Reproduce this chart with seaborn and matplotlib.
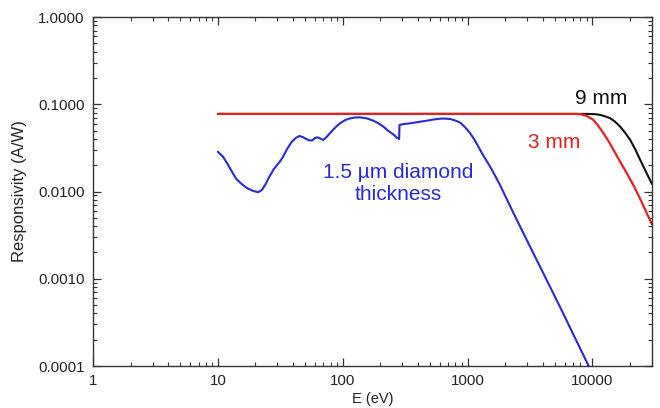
import numpy as np
import pandas as pd
import matplotlib
matplotlib.use("Agg")
import matplotlib.pyplot as plt
import matplotlib.ticker as mticker
import seaborn as sns

# ---- data ----
blue_E = [10, 11, 12, 13, 14, 15.5, 17, 19, 21, 22.5, 24, 26, 28, 31, 33, 36, 39,
          42, 45, 48, 51, 54, 57, 60, 63, 66, 70, 74, 79, 87, 95, 105, 115, 126,
          138, 155, 176, 195, 212, 230, 247, 260, 271, 283,
          285, 300, 347, 400, 472, 540, 603, 660, 726, 800, 873, 950, 1050, 1150,
          1262, 1380, 1517, 1660, 1824, 2075, 2637, 3820, 5520, 9090, 10000]
blue_R = [0.0286, 0.0250, 0.0205, 0.0168, 0.0140, 0.0122, 0.0110, 0.0102, 0.0098,
          0.0104, 0.0120, 0.0150, 0.0180, 0.0215, 0.0245, 0.0310, 0.0370, 0.0410,
          0.0433, 0.0420, 0.0400, 0.0385, 0.0385, 0.0410, 0.0418, 0.0405, 0.0390,
          0.0420, 0.0465, 0.0540, 0.0605, 0.0660, 0.0690, 0.0705, 0.0708, 0.0690,
          0.0648, 0.0600, 0.0553, 0.0500, 0.0465, 0.0440, 0.0414, 0.0400,
          0.0578, 0.0590, 0.0605, 0.0625, 0.0648, 0.0670, 0.0683, 0.0685, 0.0678,
          0.0650, 0.0615, 0.0550, 0.0465, 0.0380, 0.0299, 0.0240, 0.0192, 0.0152,
          0.0118, 0.0080, 0.00395, 0.00136, 0.00047, 0.000108, 0.000082]

red_E = [10, 100, 1000, 7000, 8000, 9000, 10200, 11200, 12270, 13500, 14760,
         16500, 18900, 21500, 24150, 27000, 30000]
red_R = [0.0775, 0.0775, 0.0775, 0.0775, 0.0770, 0.0735, 0.0660, 0.0560, 0.0465,
         0.0375, 0.0299, 0.0225, 0.0161, 0.0115, 0.0082, 0.0058, 0.0042]

black_E = [10, 100, 1000, 9000, 10500, 11540, 12700, 13900, 15200, 16700, 18300,
           20100, 22000, 24150, 27000, 30000]
black_R = [0.0775, 0.0775, 0.0775, 0.0775, 0.0770, 0.0755, 0.0725, 0.0690, 0.0630,
           0.0553, 0.0470, 0.0389, 0.0305, 0.0230, 0.0165, 0.0122]

x_ticks = [1, 10, 100, 1000, 10000]
y_ticks = [0.0001, 0.001, 0.01, 0.1, 1.0]

labels = {"black": "9 mm", "red": "3 mm", "blue": "1.5 µm diamond\nthickness"}

# ---- style ----
sns.set_theme(style="white")
plt.rcParams["font.family"] = ["Liberation Sans", "DejaVu Sans"]

BLUE = "#2a2ad4"
RED = "#e42020"
BLACK = "#111111"
AX = "#333333"

fig = plt.figure(figsize=(6.6, 4.08), dpi=100)
ax = fig.add_axes([93 / 660, 1 - 366 / 408, (652 - 93) / 660, (366 - 17) / 408])

df_b = pd.DataFrame({"E": blue_E, "R": blue_R})
df_r = pd.DataFrame({"E": red_E, "R": red_R})
df_k = pd.DataFrame({"E": black_E, "R": black_R})

sns.lineplot(data=df_k, x="E", y="R", ax=ax, color=BLACK, lw=1.5, estimator=None, sort=False)
sns.lineplot(data=df_r, x="E", y="R", ax=ax, color=RED, lw=1.6, estimator=None, sort=False)
sns.lineplot(data=df_b, x="E", y="R", ax=ax, color=BLUE, lw=1.5, estimator=None, sort=False)

ax.set_xscale("log")
ax.set_yscale("log")
ax.set_xlim(1, 30000)
ax.set_ylim(0.0001, 1.0)

ax.set_xticks(x_ticks)
ax.set_xticklabels([str(v) for v in x_ticks])
ax.set_yticks(y_ticks)
ax.set_yticklabels(["%.4f" % v for v in y_ticks])
ax.xaxis.set_minor_locator(mticker.LogLocator(base=10, subs=np.arange(2, 10), numticks=20))
ax.yaxis.set_minor_locator(mticker.LogLocator(base=10, subs=np.arange(2, 10), numticks=20))
ax.xaxis.set_minor_formatter(mticker.NullFormatter())
ax.yaxis.set_minor_formatter(mticker.NullFormatter())

ax.tick_params(which="both", direction="in", bottom=True, left=True, top=True, right=True,
               colors=AX, labelcolor="#222222", labelsize=10.8)
ax.tick_params(which="major", length=6, width=0.9, pad=6)
ax.tick_params(which="minor", length=3.2, width=0.8)
for s in ax.spines.values():
    s.set_color(AX)
    s.set_linewidth(1.0)
    s.set_visible(True)

ax.set_xlabel("E (eV)", fontsize=10.5, color="#222222", labelpad=3)
ax.set_ylabel("Responsivity (A/W)", fontsize=12, color="#222222", labelpad=8)
ax.grid(False)

ax.text(11860, 0.1164, labels["black"], color=BLACK, fontsize=15, ha="center", va="center")
ax.text(4930, 0.0369, labels["red"], color=RED, fontsize=15, ha="center", va="center")
ax.text(279, 0.0122, labels["blue"], color=BLUE, fontsize=15, ha="center", va="center",
        linespacing=1.2)

fig.savefig("out.png", dpi=100)
